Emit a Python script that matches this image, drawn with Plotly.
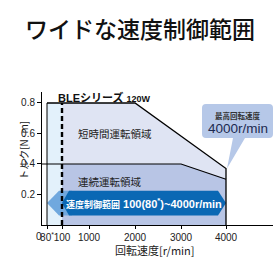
import numpy as np
import plotly.graph_objects as go

# ---------------- data ----------------
speed_nodes = [0, 80, 100, 1000, 2000, 3000, 4000]          # r/min (axis break positions)
x_tick_vals = [80, 100, 1000, 2000, 3000, 4000]
x_tick_text = ["80<sup>*</sup>", "100", "1000", "2000", "3000", "4000"]
y_tick_vals = [0.2, 0.4, 0.6, 0.8]
y_tick_text = ["0.2", "0.4", "0.6", "0.8"]

short_speed = [100, 2000, 4000]      # short-time operation limit
short_torque = [0.8, 0.8, 0.37]
cont_speed = [100, 3000, 4000]       # continuous operation limit
cont_torque = [0.4, 0.4, 0.3]
ctrl_min, ctrl_nom, ctrl_max = 80, 100, 4000   # speed control range
max_speed_label = "4000r/min"

# ---------------- scale (broken axis, display units) ----------------
disp_nodes = [42, 47, 62, 89, 135, 181, 226]
def f(s):
    return np.interp(s, speed_nodes, disp_nodes)

FONT = "Liberation Sans, Arial, Noto Sans CJK JP, sans-serif"
JP = "Noto Sans CJK JP, sans-serif"

fig = go.Figure()

def poly(xs, ys, color):
    fig.add_trace(go.Scatter(x=list(xs), y=list(ys), fill="toself", fillcolor=color,
                             mode="lines", line=dict(width=0), hoverinfo="skip",
                             showlegend=False))

def line(xs, ys, color="black", width=1.2, dash=None):
    fig.add_trace(go.Scatter(x=list(xs), y=list(ys), mode="lines",
                             line=dict(color=color, width=width, dash=dash),
                             hoverinfo="skip", showlegend=False))

ymax = short_torque[0]
# low-speed band 80-100
poly(f([ctrl_min, ctrl_nom, ctrl_nom, ctrl_min]), [0, 0, ymax, ymax], "#e3f1fb")
# short-time region
poly(f(short_speed + [short_speed[-1], short_speed[0]]), short_torque + [0, 0], "#dfe4f3")
# continuous region
poly(f(cont_speed + [cont_speed[-1], cont_speed[0]]), cont_torque + [0, 0], "#b8c5e5")

# speed control arrow
a_top, a_bot = 0.225, 0.063
a_mid = (a_top + a_bot) / 2
x80, x100, x4000 = f(ctrl_min), f(ctrl_nom), f(ctrl_max)
poly([x80, x80 + 12, x100 + 10, x100 + 10, x80 + 12],
     [a_mid, a_top, a_top, a_bot, a_bot], "#70a8de")
poly([x100, x100 + 7, x4000 - 8, x4000, x4000 - 8, x100 + 7],
     [a_mid, a_top, a_top, a_mid, a_bot, a_bot], "#0a68b4")

# outlines
line([f(ctrl_min)] + f(short_speed).tolist() + [f(short_speed[-1])],
     [ymax] + short_torque + [0], width=1.3)
line(f([ctrl_min, ctrl_min]), [0, ymax], width=1)
line(f([0] + cont_speed[1:]), cont_torque, width=1.1)
line(f([ctrl_nom, ctrl_nom]), [0, ymax], width=2.4, dash="5px,3px")

# callout
bx0, bx1, by0, by1 = 202, 273, 0.570, 0.793
rx, ry = 4, 0.026
tipx, tipy = f(ctrl_max) + 1, short_torque[-1]
path = (f"M {bx0+rx},{by1} L {bx1-rx},{by1} Q {bx1},{by1} {bx1},{by1-ry} "
        f"L {bx1},{by0+ry} Q {bx1},{by0} {bx1-rx},{by0} L 245,{by0} L {tipx},{tipy} "
        f"L 233,{by0} L {bx0+rx},{by0} Q {bx0},{by0} {bx0},{by0+ry} L {bx0},{by1-ry} "
        f"Q {bx0},{by1} {bx0+rx},{by1} Z")
fig.add_shape(type="path", path=path, fillcolor="#b6c8e8", line=dict(width=0), layer="above")

ann = []
ann.append(dict(x=(bx0 + bx1) / 2, y=0.715, text="<b>最高回転速度</b>", showarrow=False,
                font=dict(size=7.5, color="#333", family=JP)))
ann.append(dict(x=(bx0 + bx1) / 2, y=0.636, text=max_speed_label, showarrow=False,
                font=dict(size=13.5, color="#1c2a50", family=FONT)))
ann.append(dict(x=56, y=0.839, xanchor="left",
                text="<b>BLEシリーズ</b> <b><span style='font-size:9px'>120W</span></b>",
                showarrow=False, font=dict(size=11, color="#111", family=FONT)))
ann.append(dict(x=76, y=0.603, xanchor="left", text="短時間運転領域", showarrow=False,
                font=dict(size=10.5, color="#222", family=JP)))
ann.append(dict(x=76, y=0.282, xanchor="left", text="連続運転領域", showarrow=False,
                font=dict(size=10.5, color="#222", family=JP)))
ann.append(dict(x=144, y=a_mid, text="<b><span style='font-size:9px'>速度制御範囲</span> 100(80<sup>*</sup>)~4000r/min</b>",
                showarrow=False, font=dict(size=11, color="white", family=FONT)))
ann.append(dict(x=(34 - 42) / 231, xref="paper", y=0, yref="paper", yanchor="top", yshift=-4,
                text="0", showarrow=False, font=dict(size=10, color="#222", family=FONT)))
ann.append(dict(x=-0.121, xref="paper", y=0.49, text="トルク[N·m]", textangle=-90,
                showarrow=False, font=dict(size=10, color="#222", family=JP)))
ann.append(dict(x=155, y=-0.19, yref="paper", yanchor="middle", text="回転速度[r/min]",
                showarrow=False, font=dict(size=11, color="#222", family=JP)))
for a in ann:
    a.setdefault("xref", "x")
    a.setdefault("yref", "y")
fig.update_layout(annotations=ann)

fig.update_layout(
    width=280, height=280,
    margin=dict(l=42, r=7, t=92, b=55),
    paper_bgcolor="white", plot_bgcolor="white",
    title=dict(text="ワイドな速度制御範囲", x=0.5, xanchor="center", y=0.893, yanchor="middle",
               xref="container", yref="container",
               font=dict(size=23, color="#111", family=JP, weight=500)),
    xaxis=dict(range=[42, 273], showgrid=False, zeroline=False, showline=True,
               linecolor="black", linewidth=1, ticks="outside", ticklen=3, tickangle=0,
               tickcolor="black", tickvals=f(x_tick_vals).tolist(), ticktext=x_tick_text,
               tickfont=dict(size=10, color="#222", family=FONT), fixedrange=True),
    yaxis=dict(range=[0, 0.872], showgrid=False, zeroline=False, showline=True,
               linecolor="black", linewidth=1, ticks="outside", ticklen=4,
               tickcolor="black", tickvals=y_tick_vals, ticktext=y_tick_text,
               tickfont=dict(size=10, color="#222", family=FONT), fixedrange=True),
)

fig.write_html("out.html")
